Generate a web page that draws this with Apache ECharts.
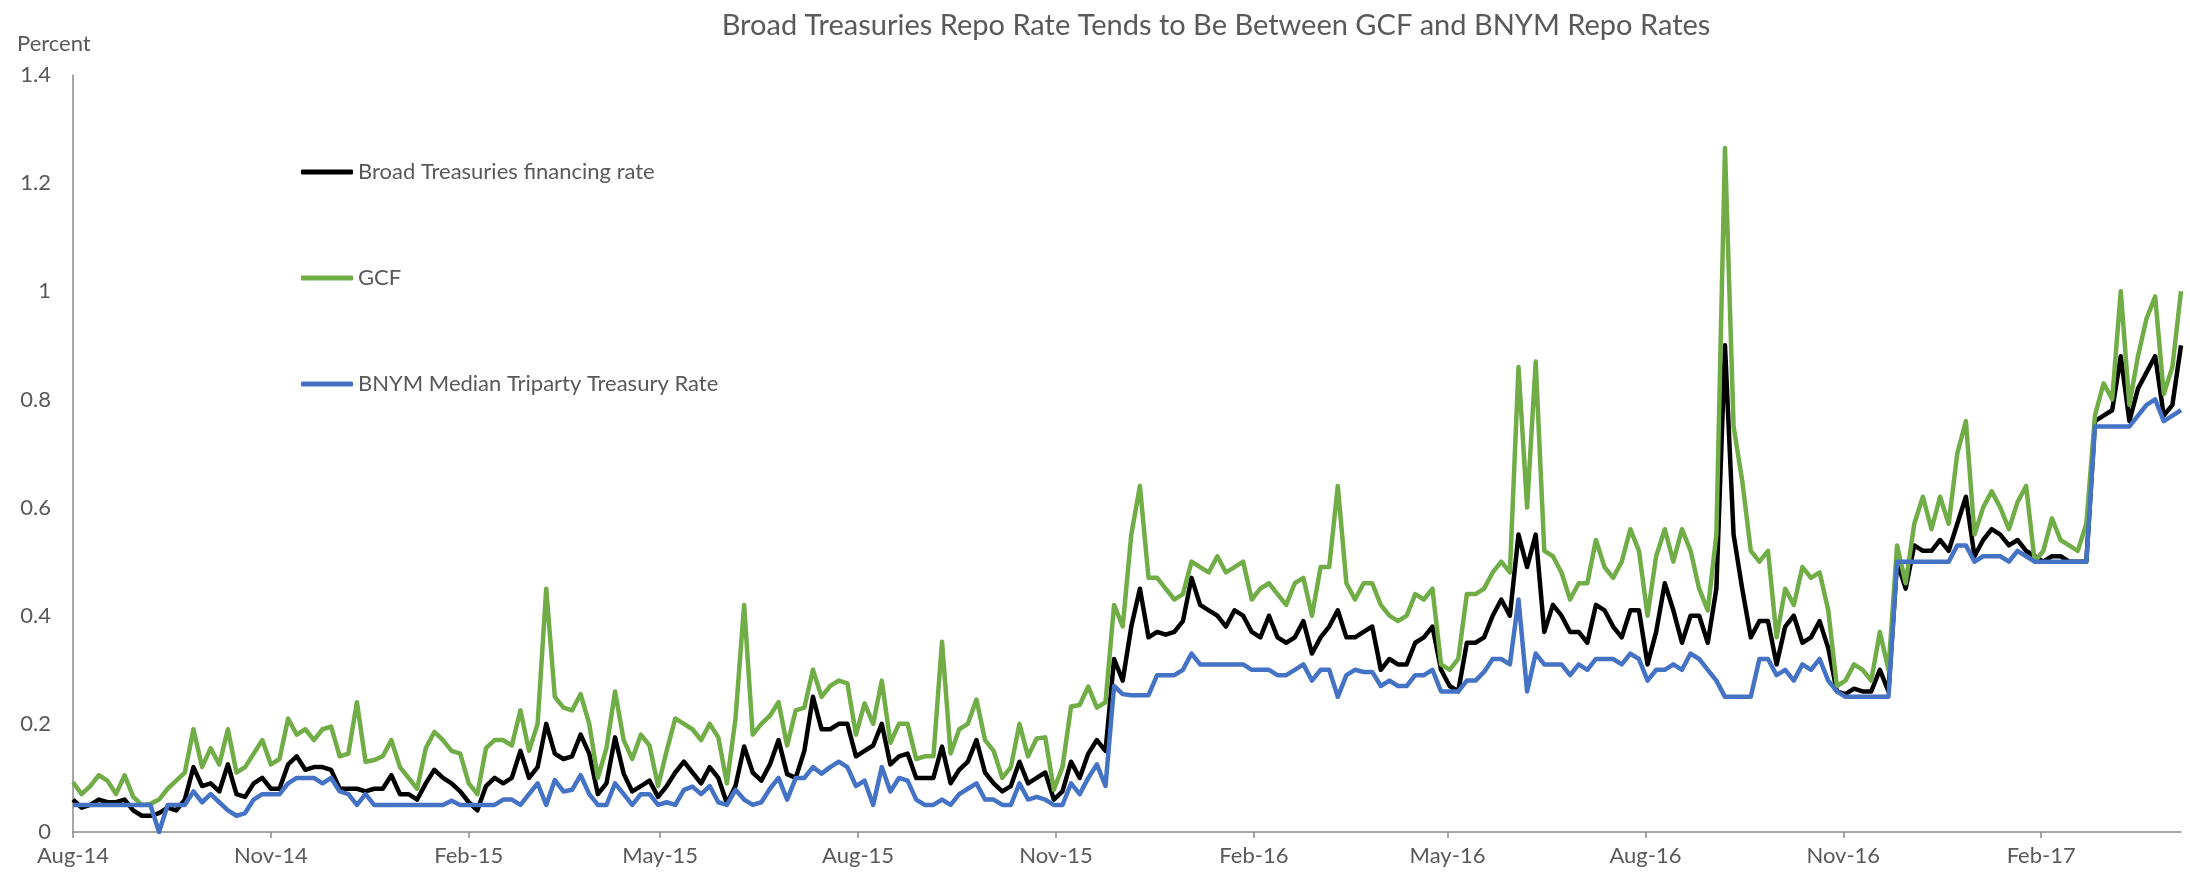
<!DOCTYPE html>
<html>
<head>
<meta charset="utf-8">
<script src="https://cdn.jsdelivr.net/npm/echarts@6/dist/echarts.min.js"></script>
<style>
  html, body { margin: 0; padding: 0; background: #fff; }
  #main { width: 2190px; height: 875px; }
</style>
</head>
<body>
<div id="main"></div>
<script>
// readings taken every 4 days from 1 Aug 2014
var startDate = [2014, 7, 1];
var stepDays = 4;
var lastDay = 980;

var tickDates = ['2014-08-01', '2014-11-01', '2015-02-01', '2015-05-01', '2015-08-01', '2015-11-01',
                 '2016-02-01', '2016-05-01', '2016-08-01', '2016-11-01', '2017-02-01'];
var tickLabels = ['Aug-14', 'Nov-14', 'Feb-15', 'May-15', 'Aug-15', 'Nov-15',
                  'Feb-16', 'May-16', 'Aug-16', 'Nov-16', 'Feb-17'];

var broad = [
  0.06,0.045,0.05,0.06,0.055,0.055,0.06,0.04,0.03,0.03,
  0.035,0.045,0.04,0.06,0.12,0.085,0.09,0.075,0.125,0.07,
  0.065,0.09,0.1,0.08,0.08,0.125,0.14,0.115,0.12,0.12,
  0.115,0.08,0.08,0.08,0.075,0.08,0.08,0.105,0.07,0.07,
  0.06,0.09,0.115,0.1,0.09,0.075,0.055,0.04,0.085,0.1,
  0.09,0.1,0.15,0.1,0.12,0.2,0.145,0.135,0.14,0.18,
  0.145,0.07,0.09,0.175,0.108,0.075,0.085,0.095,0.065,0.085,
  0.11,0.13,0.11,0.09,0.12,0.1,0.053,0.085,0.158,0.11,
  0.095,0.125,0.17,0.107,0.1,0.15,0.25,0.19,0.19,0.2,
  0.2,0.14,0.15,0.16,0.2,0.125,0.14,0.145,0.1,0.1,
  0.1,0.158,0.09,0.115,0.13,0.17,0.11,0.09,0.075,0.085,
  0.13,0.09,0.1,0.11,0.06,0.075,0.13,0.1,0.145,0.17,
  0.15,0.32,0.28,0.38,0.45,0.36,0.37,0.365,0.37,0.39,
  0.47,0.42,0.41,0.4,0.38,0.41,0.4,0.37,0.36,0.4,
  0.36,0.35,0.36,0.39,0.33,0.36,0.38,0.41,0.36,0.36,
  0.37,0.38,0.3,0.32,0.31,0.31,0.35,0.36,0.38,0.3,
  0.27,0.26,0.35,0.35,0.36,0.4,0.43,0.4,0.55,0.49,
  0.55,0.37,0.42,0.4,0.37,0.37,0.35,0.42,0.41,0.38,
  0.36,0.41,0.41,0.31,0.37,0.46,0.41,0.35,0.4,0.4,
  0.35,0.45,0.9,0.55,0.45,0.36,0.39,0.39,0.31,0.38,
  0.4,0.35,0.36,0.39,0.34,0.26,0.255,0.265,0.26,0.26,
  0.3,0.26,0.5,0.45,0.53,0.52,0.52,0.54,0.52,0.57,
  0.62,0.51,0.54,0.56,0.55,0.53,0.54,0.52,0.51,0.5,
  0.51,0.51,0.5,0.5,0.5,0.76,0.77,0.78,0.88,0.76,
  0.82,0.85,0.88,0.77,0.79,0.9
];

var gcf = [
  0.092,0.07,0.085,0.105,0.095,0.07,0.105,0.065,0.05,0.052,
  0.06,0.08,0.095,0.11,0.19,0.12,0.155,0.125,0.19,0.11,
  0.12,0.145,0.17,0.125,0.135,0.21,0.18,0.19,0.17,0.19,
  0.195,0.14,0.145,0.24,0.13,0.133,0.14,0.17,0.12,0.1,
  0.08,0.155,0.185,0.17,0.15,0.145,0.09,0.07,0.155,0.17,
  0.17,0.16,0.225,0.15,0.2,0.45,0.25,0.23,0.225,0.255,
  0.2,0.1,0.155,0.26,0.17,0.135,0.18,0.16,0.085,0.15,
  0.21,0.2,0.19,0.17,0.2,0.175,0.09,0.21,0.42,0.18,
  0.2,0.215,0.24,0.16,0.225,0.23,0.3,0.25,0.27,0.28,
  0.275,0.18,0.238,0.2,0.28,0.165,0.2,0.2,0.135,0.14,
  0.14,0.352,0.145,0.19,0.2,0.245,0.17,0.15,0.1,0.12,
  0.2,0.14,0.173,0.175,0.078,0.12,0.232,0.235,0.269,0.23,
  0.24,0.42,0.38,0.55,0.64,0.47,0.47,0.45,0.43,0.44,
  0.5,0.49,0.48,0.51,0.48,0.49,0.5,0.43,0.45,0.46,
  0.44,0.42,0.46,0.47,0.4,0.49,0.49,0.64,0.46,0.43,
  0.46,0.46,0.42,0.4,0.39,0.4,0.44,0.43,0.45,0.31,
  0.3,0.32,0.44,0.44,0.45,0.48,0.5,0.48,0.86,0.6,
  0.87,0.52,0.51,0.48,0.43,0.46,0.46,0.54,0.49,0.47,
  0.5,0.56,0.52,0.4,0.51,0.56,0.5,0.56,0.52,0.45,
  0.41,0.55,1.265,0.75,0.65,0.52,0.5,0.52,0.36,0.45,
  0.42,0.49,0.47,0.48,0.41,0.27,0.28,0.31,0.3,0.28,
  0.37,0.3,0.53,0.46,0.57,0.62,0.56,0.62,0.57,0.7,
  0.76,0.55,0.6,0.63,0.6,0.56,0.61,0.64,0.5,0.52,
  0.58,0.54,0.53,0.52,0.57,0.77,0.83,0.8,1.0,0.79,
  0.88,0.95,0.99,0.81,0.86,1.0
];

var bnym = [
  0.05,0.05,0.05,0.05,0.05,0.05,0.05,0.05,0.05,0.05,
  0,0.05,0.05,0.05,0.075,0.055,0.07,0.055,0.04,0.03,
  0.035,0.06,0.07,0.07,0.07,0.09,0.1,0.1,0.1,0.09,
  0.1,0.075,0.07,0.05,0.07,0.05,0.05,0.05,0.05,0.05,
  0.05,0.05,0.05,0.05,0.058,0.05,0.05,0.05,0.05,0.05,
  0.06,0.06,0.05,0.07,0.09,0.05,0.096,0.075,0.078,0.105,
  0.07,0.05,0.05,0.09,0.07,0.05,0.07,0.07,0.05,0.055,
  0.05,0.078,0.084,0.07,0.085,0.055,0.05,0.078,0.06,0.05,
  0.055,0.08,0.1,0.06,0.1,0.1,0.12,0.108,0.12,0.13,
  0.12,0.085,0.095,0.05,0.12,0.075,0.1,0.095,0.06,0.05,
  0.05,0.06,0.05,0.07,0.08,0.09,0.06,0.06,0.05,0.05,
  0.09,0.06,0.065,0.06,0.05,0.05,0.09,0.07,0.1,0.125,
  0.085,0.27,0.255,0.253,0.253,0.253,0.29,0.29,0.29,0.3,
  0.33,0.31,0.31,0.31,0.31,0.31,0.31,0.3,0.3,0.3,
  0.29,0.29,0.3,0.31,0.28,0.3,0.3,0.25,0.29,0.3,
  0.296,0.296,0.27,0.28,0.27,0.27,0.29,0.29,0.3,0.26,
  0.26,0.26,0.28,0.28,0.296,0.32,0.32,0.31,0.43,0.26,
  0.33,0.31,0.31,0.31,0.29,0.31,0.3,0.32,0.32,0.32,
  0.31,0.33,0.32,0.28,0.3,0.3,0.31,0.3,0.33,0.32,
  0.3,0.28,0.25,0.25,0.25,0.25,0.32,0.32,0.29,0.3,
  0.28,0.31,0.3,0.32,0.28,0.26,0.25,0.25,0.25,0.25,
  0.25,0.25,0.5,0.5,0.5,0.5,0.5,0.5,0.5,0.53,
  0.53,0.5,0.51,0.51,0.51,0.5,0.52,0.51,0.5,0.5,
  0.5,0.5,0.5,0.5,0.5,0.75,0.75,0.75,0.75,0.75,
  0.77,0.79,0.8,0.76,0.77,0.78
];

function dayOf(n) {
  return new Date(startDate[0], startDate[1], startDate[2] + n).getTime();
}
function toTime(s) {
  var p = s.split('-');
  return new Date(+p[0], +p[1] - 1, +p[2]).getTime();
}
var tickTimes = tickDates.map(toTime);

function pairs(values) {
  return values.map(function (v, i) { return [dayOf(i * stepDays), v]; });
}

var textColor = '#595959';
var axisColor = '#8a8a8a';
var fontName = 'Lato';

var myChart = echarts.init(document.getElementById('main'), null, { renderer: 'canvas' });

var option = {
  backgroundColor: '#ffffff',
  animation: false,
  title: {
    text: 'Broad Treasuries Repo Rate Tends to Be Between GCF and BNYM Repo Rates',
    left: 1211,
    top: 6,
    textAlign: 'center',
    textStyle: { color: textColor, fontSize: 29, fontWeight: 'normal', fontFamily: fontName }
  },
  graphic: [{
    type: 'text',
    left: 17,
    top: 33,
    style: { text: 'Percent', fill: textColor, font: '22px ' + fontName }
  }],
  legend: {
    orient: 'vertical',
    left: 296,
    top: 156,
    itemWidth: 52,
    itemHeight: 5,
    itemGap: 84,
    icon: 'roundRect',
    textStyle: { color: textColor, fontSize: 22, fontFamily: fontName },
    data: ['Broad Treasuries financing rate', 'GCF', 'BNYM Median Triparty Treasury Rate']
  },
  grid: { left: 73, right: 9, top: 75, bottom: 43 },
  // x is a plain value axis holding timestamps, so the month ticks can be placed exactly
  xAxis: {
    type: 'value',
    min: dayOf(0),
    max: dayOf(lastDay),
    splitLine: { show: false },
    axisLine: { lineStyle: { color: axisColor, width: 1.5 } },
    axisTick: { show: true, length: 6, customValues: tickTimes, lineStyle: { color: axisColor, width: 1.5 } },
    axisLabel: {
      customValues: tickTimes,
      margin: 13,
      color: textColor,
      fontSize: 22,
      fontFamily: fontName,
      formatter: function (value) {
        var k = tickTimes.indexOf(value);
        return k >= 0 ? tickLabels[k] : '';
      }
    }
  },
  yAxis: {
    type: 'value',
    min: 0,
    max: 1.4,
    interval: 0.2,
    splitLine: { show: false },
    axisLine: { show: true, lineStyle: { color: axisColor, width: 1.5 } },
    axisTick: { show: false },
    axisLabel: { margin: 22, color: textColor, fontSize: 22, fontFamily: fontName }
  },
  series: [
    {
      name: 'Broad Treasuries financing rate',
      type: 'line',
      symbol: 'none',
      color: '#000000',
      lineStyle: { width: 4.5, join: 'round' },
      data: pairs(broad)
    },
    {
      name: 'GCF',
      type: 'line',
      symbol: 'none',
      color: '#70ad47',
      lineStyle: { width: 4.5, join: 'round' },
      data: pairs(gcf)
    },
    {
      name: 'BNYM Median Triparty Treasury Rate',
      type: 'line',
      symbol: 'none',
      color: '#4472c4',
      lineStyle: { width: 4.5, join: 'round' },
      data: pairs(bnym)
    }
  ]
};

myChart.setOption(option);

window.addEventListener('resize', function () {
  myChart.resize();
});
</script>
</body>
</html>
